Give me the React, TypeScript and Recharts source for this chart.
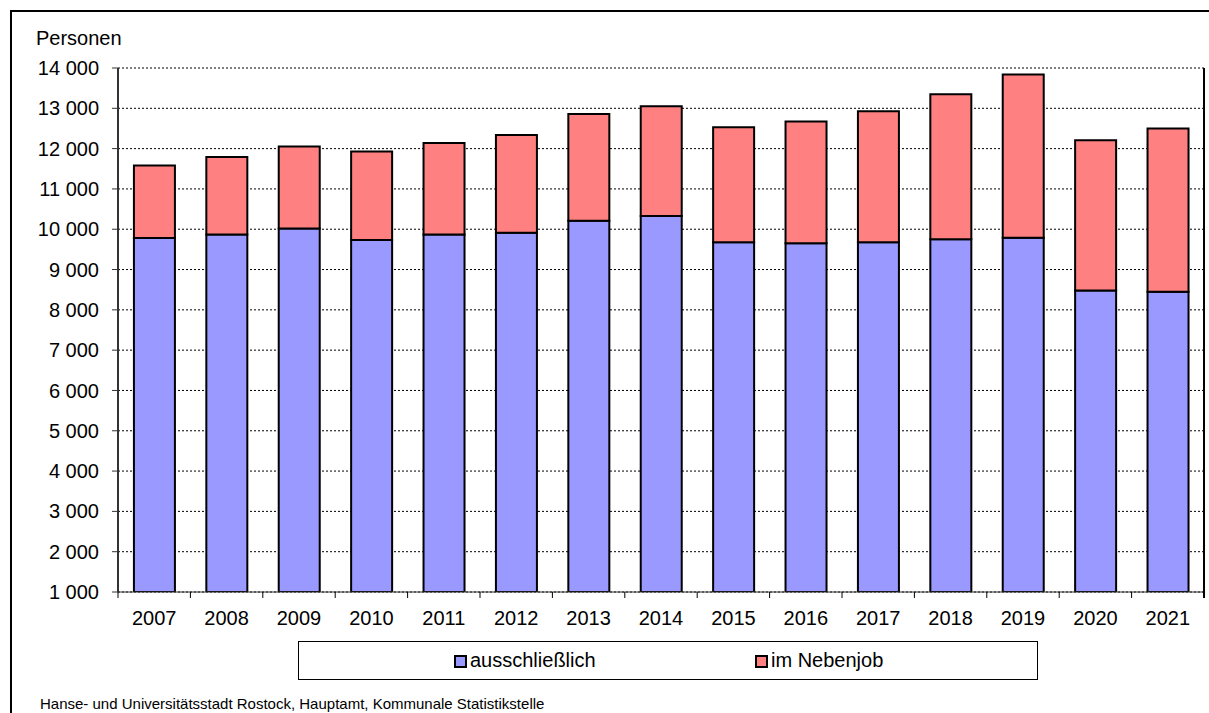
import React from "react";
import { BarChart, Bar, XAxis, YAxis, CartesianGrid } from "recharts";

const years = ["2007","2008","2009","2010","2011","2012","2013","2014","2015","2016","2017","2018","2019","2020","2021"];
const ausschliesslich = [9780, 9870, 10020, 9730, 9870, 9910, 10210, 10330, 9680, 9650, 9680, 9750, 9790, 8480, 8450];
const gesamt = [11580, 11790, 12050, 11930, 12140, 12340, 12860, 13050, 12530, 12670, 12930, 13350, 13840, 12210, 12500];
const yTicks = [1000,2000,3000,4000,5000,6000,7000,8000,9000,10000,11000,12000,13000,14000];
const seriesNames = ["ausschließlich", "im Nebenjob"];
const colors = ["#9999FF", "#FF8080"];

const data = years.map((y, i) => ({
  year: y,
  a: ausschliesslich[i],
  n: gesamt[i] - ausschliesslich[i],
}));

const W = 1209;
const H = 713;
const XAXIS_H = 30;
const MARGIN = { top: 68, right: 5, bottom: 121 - XAXIS_H, left: 0 };
const YAXIS_W = 118;
const PLOT_H = H - MARGIN.top - MARGIN.bottom - XAXIS_H;
const FONT = "'Liberation Sans', Arial, sans-serif";

const fmt = (v: number) => `${Math.floor(v / 1000)} 000`;

const XTick = (props: any) => {
  const { x, y, payload, index } = props;
  const band = (W - MARGIN.left - YAXIS_W - MARGIN.right) / years.length;
  const ay = y - 19;
  const last = index === years.length - 1;
  return (
    <g>
      <line x1={x - band / 2} x2={x - band / 2} y1={ay} y2={ay + 6} stroke="#000" strokeWidth={1} />
      {last && <line x1={x + band / 2} x2={x + band / 2} y1={ay - PLOT_H} y2={ay + 6} stroke="#000" strokeWidth={2} />}
      <text x={x} y={y} dy="0.71em" textAnchor="middle" fill="#000" fontSize={20} fontFamily={FONT}>
        {payload.value}
      </text>
    </g>
  );
};

const LegendBox = () => (
  <div style={{ position: "absolute", left: 298, top: 641, width: 738, height: 37, border: "1px solid #000", background: "#fff", fontFamily: FONT, fontSize: 20, color: "#000" }}>
    {[{ sq: 155, tx: 171 }, { sq: 456, tx: 472 }].map((p, i) => (
      <React.Fragment key={i}>
        <div style={{ position: "absolute", left: p.sq, top: 13, width: 9, height: 9, background: colors[i], border: "2px solid #000" }} />
        <div style={{ position: "absolute", left: p.tx, top: 6, lineHeight: "24px", whiteSpace: "nowrap" }}>{seriesNames[i]}</div>
      </React.Fragment>
    ))}
  </div>
);

export default function App() {
  return (
    <div style={{ position: "absolute", left: 0, top: 0, width: W, height: H, overflow: "hidden", background: "#fff" }}>
      <div style={{ position: "absolute", left: 10, top: 10, width: 1300, height: 900, borderTop: "2px solid #000", borderLeft: "2px solid #000" }} />
      <div style={{ position: "absolute", left: 36, top: 27, fontFamily: FONT, fontSize: 20, color: "#000", lineHeight: "22px" }}>Personen</div>
      <div style={{ position: "absolute", left: 0, top: 0 }}>
        <BarChart width={W} height={H} data={data} margin={MARGIN} barCategoryGap="22%">
          <CartesianGrid vertical={false} stroke="#000" strokeDasharray="2 2" />
          <XAxis
            dataKey="year"
            height={XAXIS_H}
            axisLine={{ stroke: "#333", strokeWidth: 1 }}
            tickLine={false}
            tickSize={6}
            tickMargin={13}
            tick={<XTick />}
            interval={0}
          />
          <YAxis
            width={YAXIS_W}
            domain={[1000, 14000]}
            ticks={yTicks}
            tickFormatter={fmt}
            allowDataOverflow
            axisLine={{ stroke: "#333", strokeWidth: 2 }}
            tickLine={{ stroke: "#333" }}
            tickSize={6}
            tickMargin={13}
            tick={{ fill: "#000", fontSize: 20, fontFamily: FONT }}
            interval={0}
          />
          <Bar dataKey="a" name={seriesNames[0]} stackId="s" fill={colors[0]} stroke="#000" strokeWidth={2} isAnimationActive={false} />
          <Bar dataKey="n" name={seriesNames[1]} stackId="s" fill={colors[1]} stroke="#000" strokeWidth={2} isAnimationActive={false} />
        </BarChart>
      </div>
      <LegendBox />
      <div style={{ position: "absolute", left: 40, top: 695, fontFamily: FONT, fontSize: 15, color: "#000", lineHeight: "17px", whiteSpace: "nowrap" }}>
        Hanse- und Universitätsstadt Rostock, Hauptamt, Kommunale Statistikstelle
      </div>
    </div>
  );
}
